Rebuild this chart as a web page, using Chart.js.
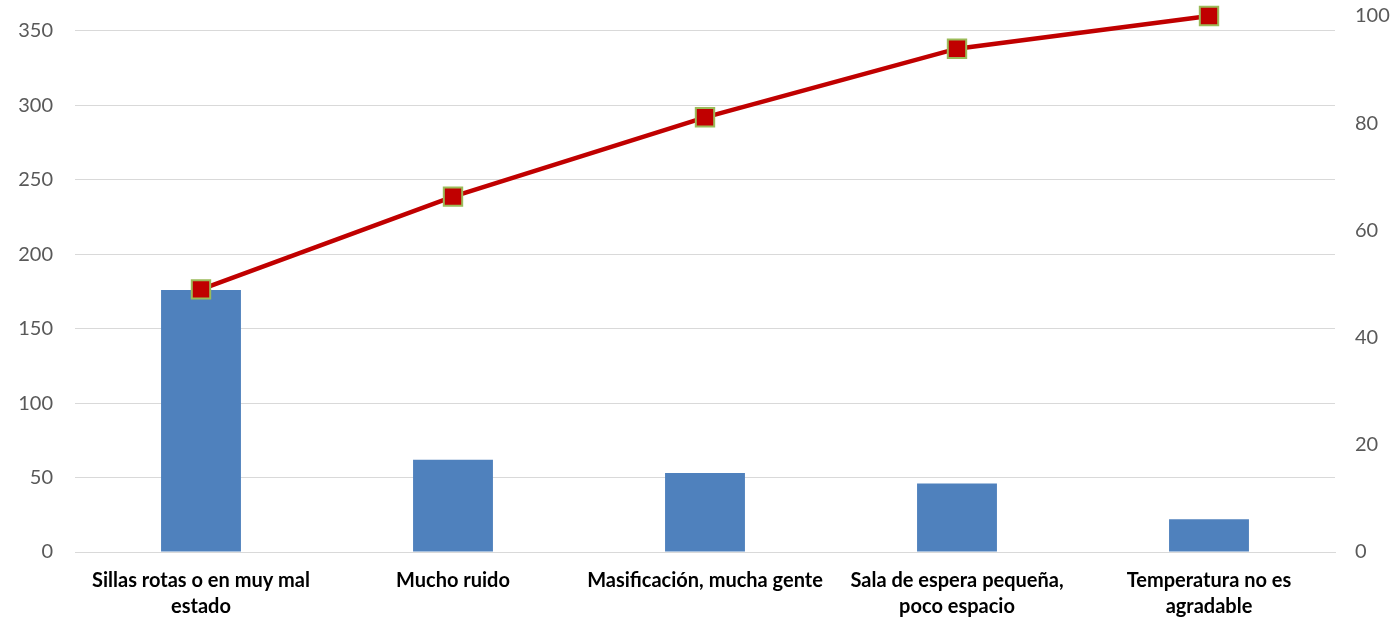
<!DOCTYPE html>
<html>
<head>
<meta charset="utf-8">
<script src="https://cdn.jsdelivr.net/npm/chart.js@4"></script>
<style>
  html, body { margin: 0; padding: 0; background: #fff; }
  #wrap { width: 1396px; height: 621px; position: relative; }
</style>
</head>
<body>
<div id="wrap"><canvas id="pareto"></canvas></div>
<script>
// Categories (multi-line as in the picture)
const categories = [
    ['Sillas rotas o en muy mal', 'estado'],
    'Mucho ruido',
    'Masificación, mucha gente',
    ['Sala de espera pequeña,', 'poco espacio'],
    ['Temperatura no es', 'agradable']
];

// Frequencies (bars, left axis)
const counts = [176, 62, 53, 46, 22];

// Cumulative percentage (line, right axis)
const cumulativePct = [49.0, 66.3, 81.1, 93.9, 100];

const leftTicks = [0, 50, 100, 150, 200, 250, 300, 350];
const rightTicks = [0, 20, 40, 60, 80, 100];

const tickFont = { family: 'Lato', size: 20 };
const tickColor = '#595959';

// pin the vertical axes so the plot area matches the picture
const fixY = (w) => (s) => { s.width = w; s.paddingTop = 0; s.paddingBottom = 0; };

new Chart(document.getElementById('pareto'), {
    type: 'bar',
    data: {
        labels: categories,
        datasets: [
            {
                type: 'line',
                label: '% acumulado',
                data: cumulativePct,
                yAxisID: 'y1',
                borderColor: '#C00000',
                borderWidth: 4.5,
                pointStyle: 'rect',
                pointRadius: 13,
                pointBackgroundColor: '#C00000',
                pointBorderColor: '#9BBB59',
                pointBorderWidth: 2,
                tension: 0,
                clip: false,
                order: 0
            },
            {
                label: 'Frecuencia',
                data: counts,
                yAxisID: 'y',
                backgroundColor: '#4F81BD',
                categoryPercentage: 1,
                barPercentage: 0.317,
                order: 1
            }
        ]
    },
    options: {
        responsive: true,
        maintainAspectRatio: false,
        animation: false,
        layout: { padding: { top: 16, left: 0, right: 0, bottom: 0 } },
        plugins: { legend: { display: false }, tooltip: { enabled: false } },
        scales: {
            x: {
                grid: { display: false, drawTicks: false },
                border: { display: true, color: '#D9D9D9', width: 1 },
                ticks: {
                    color: '#000',
                    font: { family: 'Lato', size: 20, weight: 'bold', lineHeight: 1.3 },
                    maxRotation: 0,
                    autoSkip: false,
                    padding: 16
                },
                afterFit: (s) => { s.height = 69; s.paddingLeft = 0; s.paddingRight = 0; }
            },
            y: {
                position: 'left',
                min: 0,
                max: 360,
                afterBuildTicks: (s) => { s.ticks = leftTicks.map(v => ({ value: v })); },
                grid: { color: '#D9D9D9', lineWidth: 1, drawTicks: false },
                border: { display: false },
                ticks: { color: tickColor, font: tickFont, padding: 22 },
                afterFit: fixY(75)
            },
            y1: {
                position: 'right',
                min: 0,
                max: 100,
                afterBuildTicks: (s) => { s.ticks = rightTicks.map(v => ({ value: v })); },
                grid: { display: false, drawTicks: false },
                border: { display: false },
                ticks: { color: tickColor, font: tickFont, padding: 20 },
                afterFit: fixY(61)
            }
        }
    }
});
</script>
</body>
</html>
